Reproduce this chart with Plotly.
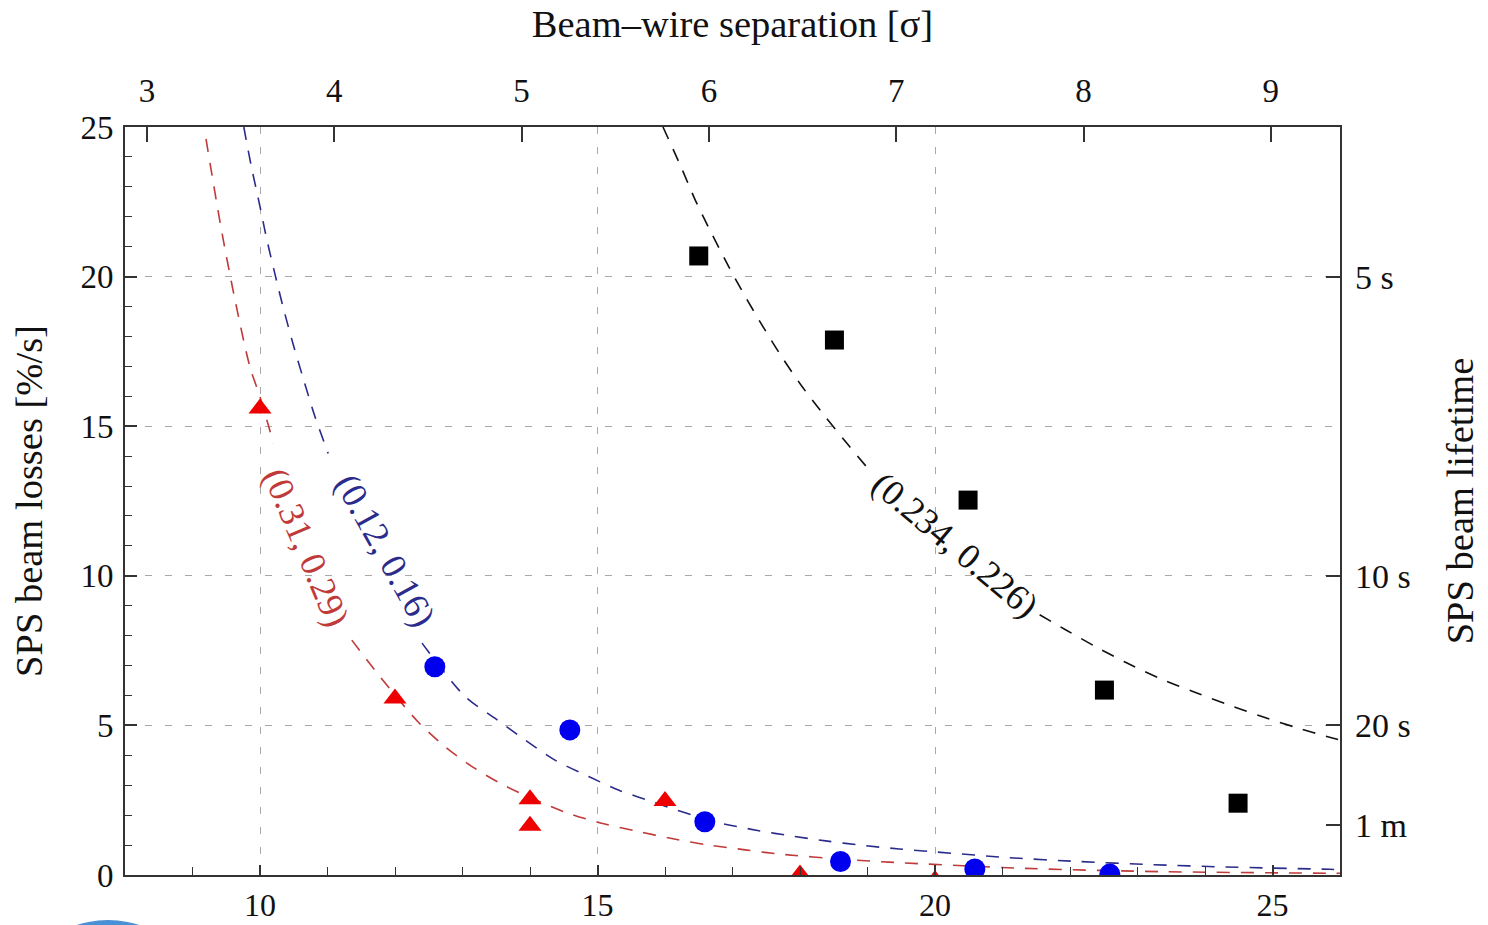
import plotly.graph_objects as go

# ---------------- data ----------------
# measured points (x = beam-wire distance [mm], y = losses [%/s])
sq_x = [16.5, 18.51, 20.49, 22.51, 24.49]
sq_y = [20.69, 17.88, 12.53, 6.18, 2.40]

circ_x = [12.59, 14.59, 16.59, 18.6, 20.59, 22.59]
circ_y = [6.96, 4.85, 1.78, 0.45, 0.20, 0.03]

tri_x = [10, 12, 14, 14, 16, 18, 20]
tri_y = [15.59, 5.90, 2.53, 1.65, 2.47, 0.02, -0.17]

# dashed fit curves (None = gap at label)
black_cx = [15.97, 16.25, 16.45, 16.70, 16.94, 17.19, 17.44, 17.74, 18.03, 18.38, 18.72, 19.02,
            None, 21.55, 21.94, 22.38, 22.83, 23.32, 23.82, 24.31, 24.81, 25.35, 25.90, 26.0]
black_cy = [25.0, 23.6, 22.55, 21.4, 20.35, 19.33, 18.37, 17.28, 16.33, 15.3, 14.36, 13.55,
            None, 8.70, 8.19, 7.63, 7.10, 6.58, 6.13, 5.72, 5.32, 4.93, 4.57, 4.51]

blue_cx = [9.76, 9.87, 10.0, 10.09, 10.22, 10.34, 10.49, 10.64, 10.81, 11.01,
           None, 12.40, 13.04, 13.48, 13.93, 14.37, 14.87, 15.31, 15.81, 16.70, 17.39,
           17.89, 18.38, 18.97, 19.47, 20.01, 21.10, 22.14, 23.18, 24.26, 25.85, 26.0]
blue_cy = [25.0, 23.7, 22.34, 21.35, 20.1, 19.0, 17.75, 16.6, 15.35, 14.09,
           None, 7.75, 5.96, 5.24, 4.51, 3.84, 3.29, 2.84, 2.45, 1.80, 1.48,
           1.30, 1.14, 0.98, 0.87, 0.77, 0.58, 0.45, 0.35, 0.27, 0.19, 0.18]

red_cx = [9.2, 9.42, 9.62, 9.85, 10.0, 10.2,
          None, 11.36, 11.70, 12.34, 12.74, 13.13, 13.63, 14.52, 15.06, 15.61, 16.10, 16.65,
          17.19, 17.69, 18.68, 19.32, 21.35, 23.42, 25.85, 26.0]
red_cy = [24.6, 21.67, 19.33, 16.99, 15.98, 14.43,
          None, 7.85, 6.85, 5.12, 4.29, 3.64, 2.98, 2.10, 1.73, 1.45, 1.22, 1.00,
          0.84, 0.70, 0.52, 0.43, 0.22, 0.11, 0.06, 0.06]

# curve labels
lab_text = ["(0.31, 0.29)", "(0.12, 0.16)", "(0.234, 0.226)"]
lab_x = [10.68, 11.85, 20.30]
lab_y = [10.95, 10.85, 11.03]
lab_angle = [67, 61, 40]
lab_color = ["#c03a3a", "#2b2b8c", "#111111"]

# axes
x_range = [8, 26]
y_range = [0, 25]
x_ticks = [10, 15, 20, 25]
x_grid = [10, 15, 20]
mm_per_sigma = 2.775
sigma_ticks = [3, 4, 5, 6, 7, 8, 9]
lifetime_s = [5, 10, 20, 60]
lifetime_lbl = ["5 s", "10 s", "20 s", "1 m"]

# ---------------- figure ----------------
FONT = "Liberation Serif"
AX = "#333333"
GRID = "#a8a8a8"

fig = go.Figure()

curve_dash = "13px,11px"
for cx, cy, col in [(black_cx, black_cy, "#111111"), (blue_cx, blue_cy, "#2b2b8c"), (red_cx, red_cy, "#c03a3a")]:
    fig.add_trace(go.Scatter(x=cx, y=cy, mode="lines",
                             line=dict(color=col, width=1.6, dash=curve_dash, shape="spline", smoothing=0.8),
                             connectgaps=False, showlegend=False, hoverinfo="skip"))

fig.add_trace(go.Scatter(x=sq_x, y=sq_y, mode="markers", marker=dict(symbol="square", size=19, color="black"), showlegend=False))
fig.add_trace(go.Scatter(x=circ_x, y=circ_y, mode="markers", marker=dict(symbol="circle", size=21, color="#0000ee"), showlegend=False))
fig.add_trace(go.Scatter(x=tri_x, y=tri_y, mode="markers", marker=dict(symbol="triangle-up", size=20, color="#ee0000"), showlegend=False))

# helper traces to attach the extra axes
fig.add_trace(go.Scatter(x=[sigma_ticks[0]], y=[None], xaxis="x2", yaxis="y", showlegend=False, hoverinfo="skip"))
fig.add_trace(go.Scatter(x=[x_grid[0]], y=[None], xaxis="x3", yaxis="y", showlegend=False, hoverinfo="skip"))
fig.add_trace(go.Scatter(x=[x_ticks[0]], y=[None], xaxis="x", yaxis="y2", showlegend=False, hoverinfo="skip"))

for t, x, y, a, c in zip(lab_text, lab_x, lab_y, lab_angle, lab_color):
    fig.add_annotation(x=x, y=y, text=t, textangle=a, showarrow=False,
                       font=dict(family=FONT, size=36, color=c))

tickfont = dict(family=FONT, size=33, color="#111111")
btickfont = dict(family=FONT, size=32, color="#111111")
rtickfont = dict(family=FONT, size=34, color="#111111")
titlefont = dict(family=FONT, size=38.5, color="#111111")

fig.update_layout(
    width=1488, height=925,
    margin=dict(l=125, r=148, t=127, b=50, autoexpand=False),
    paper_bgcolor="white", plot_bgcolor="white",
    xaxis=dict(range=x_range, tickvals=x_ticks, ticks="inside", ticklen=10, tickwidth=1.5, tickcolor=AX,
               minor=dict(dtick=1, ticks="inside", ticklen=8, tickwidth=1.2, tickcolor=AX, showgrid=False),
               showgrid=False, zeroline=False, showline=True, linecolor=AX, linewidth=1.6, mirror=True,
               tickfont=btickfont, ticklabelstandoff=1, automargin=False),
    xaxis2=dict(overlaying="x", side="top", anchor="y",
                range=[x_range[0] / mm_per_sigma, x_range[1] / mm_per_sigma],
                tickvals=sigma_ticks, ticks="inside", ticklen=15, tickwidth=1.5, tickcolor=AX,
                showgrid=False, zeroline=False, showline=False, tickfont=tickfont, ticklabelstandoff=17,
                automargin=False,
                title=dict(text="Beam\u2013wire separation [\u03c3]", font=titlefont, standoff=23)),
    xaxis3=dict(overlaying="x", side="bottom", anchor="y", range=x_range, tickvals=x_grid,
                showticklabels=False, ticks="", showgrid=True, gridcolor=GRID, gridwidth=1.4,
                griddash="7px,13px", zeroline=False, showline=False, automargin=False),
    yaxis=dict(range=y_range, dtick=5, ticks="inside", ticklen=12, tickwidth=1.5, tickcolor=AX,
               minor=dict(dtick=1, ticks="inside", ticklen=7, tickwidth=1.2, tickcolor=AX, showgrid=False),
               showgrid=True, gridcolor=GRID, gridwidth=1.4, griddash="7px,13px",
               zeroline=False, showline=True, linecolor=AX, linewidth=1.6, mirror=True,
               tickfont=tickfont, ticklabelstandoff=3, automargin=False,
               title=dict(text="SPS beam losses [%/s]", font=titlefont, standoff=26)),
    yaxis2=dict(overlaying="y", side="right", anchor="x", range=y_range,
                tickvals=[100 / t for t in lifetime_s], ticktext=lifetime_lbl,
                ticks="inside", ticklen=14, tickwidth=1.5, tickcolor=AX,
                showgrid=False, zeroline=False, showline=False, tickfont=rtickfont, ticklabelstandoff=14,
                automargin=False,
                title=dict(text="SPS beam lifetime", font=titlefont, standoff=36)),
)

# partially visible blue disc at the lower-left page edge
fig.add_shape(type="circle", xref="paper", yref="paper",
              x0=-0.0963, x1=0.0683, y0=-0.3275, y1=-0.0602,
              fillcolor="#4a90d4", line=dict(width=0), layer="above")

fig.write_html("out.html")
